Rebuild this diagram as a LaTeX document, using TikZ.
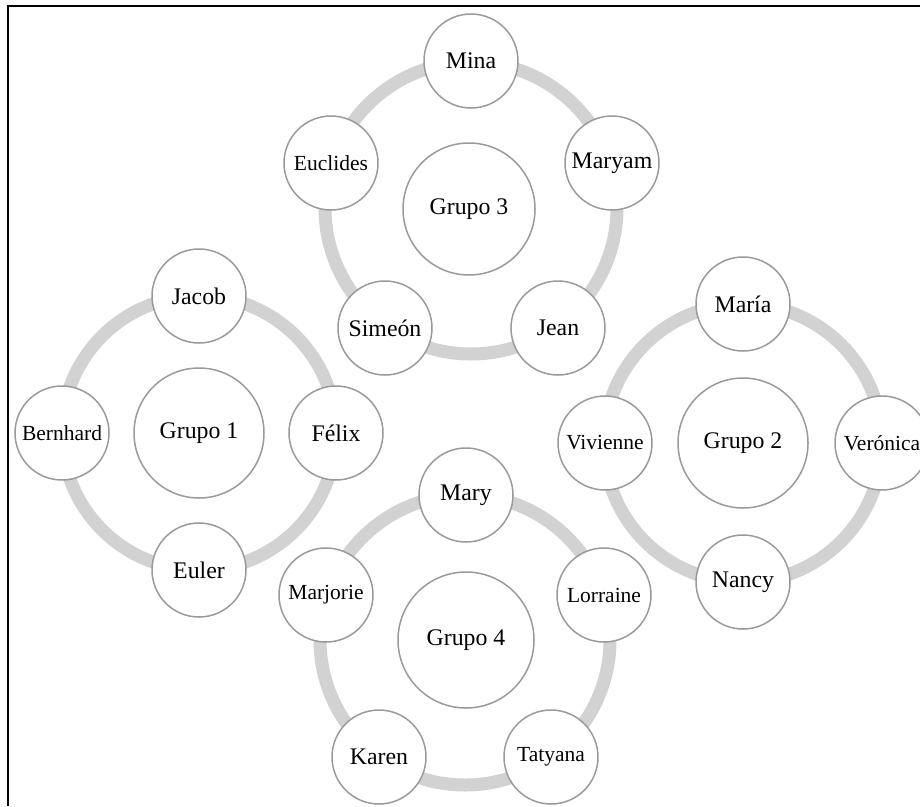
\documentclass[tikz,border=0pt]{standalone}
\usepackage{fontspec}
\setmainfont{Liberation Serif}
\definecolor{ringgray}{HTML}{D2D2D2}
\definecolor{edgegray}{HTML}{9A9A9A}
\begin{document}
\begin{tikzpicture}[x=1pt,y=-1pt]
\tikzset{
  ring/.style={draw=ringgray, line width=13pt},
  member/.style={circle, draw=edgegray, line width=1.5pt, fill=white,
    minimum size=94pt, inner sep=0pt, font=\fontsize{23.8}{26}\selectfont},
  longname/.style={font=\fontsize{21.5}{24}\selectfont},
  hub/.style={member, minimum size=132pt},
  frameline/.style={draw=black, line width=1.3pt}
}
\useasboundingbox (0,0) rectangle (920,806);
\clip (0,0) rectangle (920,806);
\fill[white] (0,0) rectangle (920,806);
% frame
\coordinate (fTR) at (920,6);
\coordinate (fTL) at (8,6);
\coordinate (fBL) at (8,806);
\draw[frameline] (fTR) -- (fTL) -- (fBL);
% ring centres
\coordinate (c1) at (199,433);
\coordinate (c2) at (743,443);
\coordinate (c3) at (471,208);
\coordinate (c4) at (465,640);
% rings
\draw[ring] (c1) circle[radius=137];
\draw[ring] (c2) circle[radius=139];
\draw[ring] (c3) circle[radius=146];
\draw[ring] (c4) circle[radius=145];
% Group 1
\node[hub, minimum size=130pt] (g1) at (199,433) {Grupo 1};
\node[member] (jacob) at (199,296) {Jacob};
\node[member] (felix) at (336,433) {Félix};
\node[member] (euler) at (199,570) {Euler};
\node[member, longname] (bernhard) at (62,433) {Bernhard};
% Group 2
\node[hub, minimum size=130pt] (g2) at (743,443) {Grupo 2};
\node[member] (maria) at (743,304) {María};
\node[member, longname] (veronica) at (882,443) {Verónica};
\node[member] (nancy) at (743,582) {Nancy};
\node[member, longname] (vivienne) at (605,443) {Vivienne};
% Group 3
\node[hub] (g3) at (469,209) {Grupo 3};
\node[member] (mina) at (471,61) {Mina};
\node[member] (maryam) at (612,163) {Maryam};
\node[member] (jean) at (558,328) {Jean};
\node[member] (simeon) at (385,328) {Simeón};
\node[member, longname] (euclides) at (331,163) {Euclides};
% Group 4
\node[hub, minimum size=136pt] (g4) at (466,640) {Grupo 4};
\node[member] (mary) at (466,495) {Mary};
\node[member, longname] (lorraine) at (604,595) {Lorraine};
\node[member, longname] (tatyana) at (551,757) {Tatyana};
\node[member] (karen) at (379,757) {Karen};
\node[member, longname] (marjorie) at (326,595) {Marjorie};
\end{tikzpicture}
\end{document}
